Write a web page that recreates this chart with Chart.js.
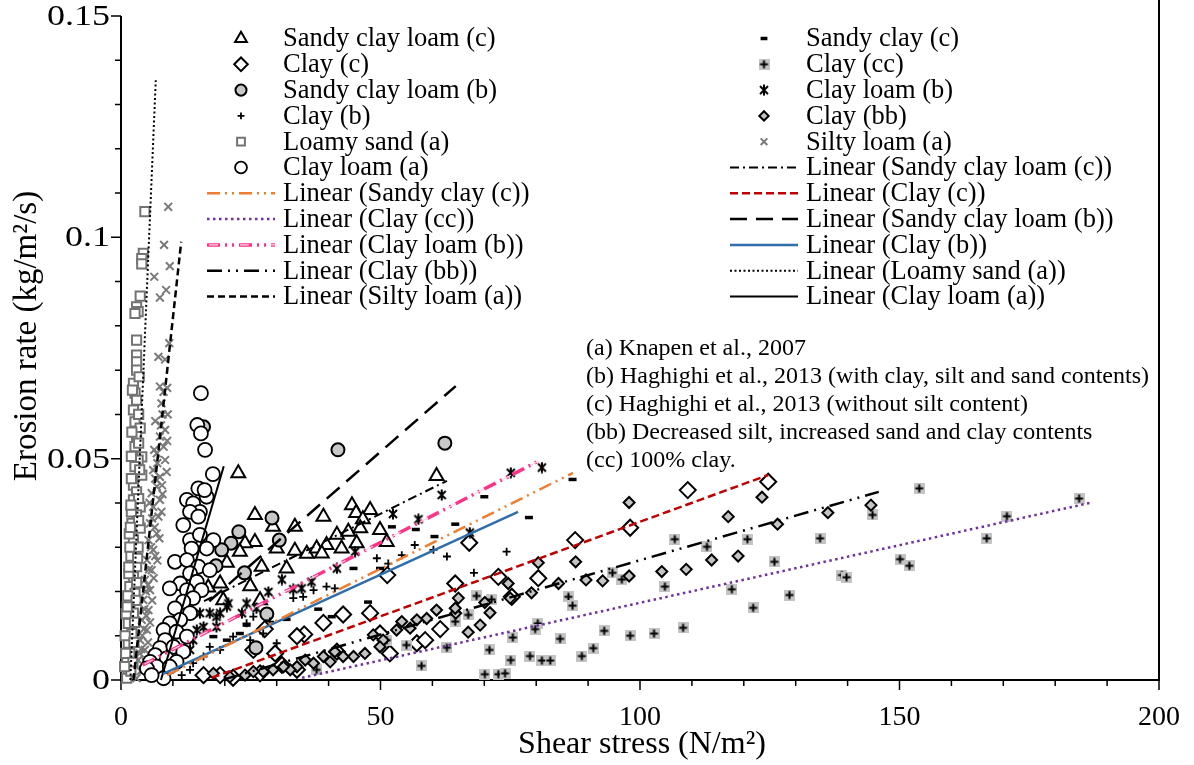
<!DOCTYPE html>
<html>
<head>
<meta charset="utf-8">
<script src="https://cdn.jsdelivr.net/npm/chart.js@4.4.1/dist/chart.umd.min.js"></script>
<style>
  html, body { margin: 0; padding: 0; background: #fff; }
  #wrap { width: 1194px; height: 765px; }
</style>
</head>
<body>
<div id="wrap"><canvas id="chart" width="1194" height="765"></canvas></div>
<script>
// values: [shear stress (N/m2), erosion rate (kg/m2/s)]
const sandyClayLoamC = [[60.8,0.0461],[22.6,0.0467],[44.5,0.0395],[45.3,0.0377],[48.0,0.0384],[46.6,0.0363],[39.0,0.0369],[25.8,0.0373],[29.3,0.0346],[33.5,0.0346],[25.8,0.0312],[30.0,0.0297],[33.5,0.0292],[35.8,0.0285],[37.7,0.0297],[39.6,0.0305],[41.6,0.0328],[43.8,0.0335],[46.1,0.0343],[49.9,0.0339],[51.2,0.0312],[42.5,0.0297],[45.4,0.0309],[38.7,0.0286],[23.9,0.0309],[22.9,0.0290],[20.4,0.0265],[16.8,0.0209],[19.1,0.0218],[24.9,0.0212],[27.1,0.0256],[31.9,0.0252],[19.7,0.0180],[26.8,0.0180]];
const sandyClayC = [[70.0,0.0414],[78.6,0.0367],[87.0,0.0453],[64.4,0.0352],[60.4,0.0324],[56.8,0.0340],[52.2,0.0346],[49.9,0.0252],[47.6,0.0176],[44.8,0.0252],[38.0,0.0160],[31.9,0.0137],[40.6,0.0143],[24.2,0.0124],[17.8,0.0098],[22.9,0.0105],[20.4,0.0090]];
const clayC = [[124.7,0.0448],[109.2,0.0429],[98.1,0.0344],[87.5,0.0316],[72.7,0.0233],[80.4,0.0230],[67.1,0.0310],[64.4,0.0218],[75.3,0.0188],[51.3,0.0237],[42.8,0.0148],[39.0,0.0129],[35.3,0.0103],[33.9,0.0099],[48.0,0.0151],[49.9,0.0105],[27.7,0.0115],[29.7,0.0060],[25.5,0.0068],[21.6,0.0005],[19.1,0.0011],[15.9,0.0011],[33.9,0.0023],[31.0,0.0034],[26.8,0.0015],[41.6,0.0064],[51.8,0.0060],[57.0,0.0083],[61.5,0.0115],[58.6,0.0090]];
const clayCC = [[184.6,0.0410],[170.7,0.0370],[166.8,0.0320],[153.8,0.0433],[150.1,0.0273],[151.9,0.0258],[144.8,0.0373],[134.7,0.0320],[138.9,0.0237],[139.8,0.0232],[128.8,0.0192],[125.9,0.0267],[121.8,0.0163],[120.7,0.0318],[117.7,0.0205],[112.9,0.0301],[106.7,0.0318],[108.3,0.0118],[104.8,0.0211],[102.7,0.0105],[98.1,0.0100],[93.1,0.0111],[91.0,0.0072],[88.8,0.0054],[94.7,0.0242],[96.5,0.0227],[86.2,0.0188],[87.0,0.0168],[84.6,0.0093],[80.3,0.0128],[79.8,0.0115],[75.5,0.0096],[75.1,0.0045],[78.8,0.0054],[81.1,0.0044],[82.7,0.0044],[71.0,0.0068],[70.1,0.0013],[72.7,0.0013],[74.0,0.0015],[64.4,0.0132],[66.9,0.0147],[68.5,0.0190],[71.4,0.0182],[62.8,0.0073],[57.9,0.0032],[55.0,0.0079],[51.2,0.0090],[37.7,0.0023]];
const sandyClayLoamB = [[41.8,0.0520],[62.4,0.0535],[29.1,0.0366],[30.5,0.0316],[22.7,0.0335],[21.2,0.0309],[19.4,0.0294],[23.8,0.0242],[18.3,0.0258],[28.1,0.0149],[26.0,0.0073],[15.9,0.0572]];
const clayLoamB = [[61.8,0.0418],[52.4,0.0375],[57.3,0.0363],[67.2,0.0333],[45.1,0.0290],[75.1,0.0468],[81.1,0.0480],[41.6,0.0252],[36.7,0.0222],[34.8,0.0207],[33.2,0.0205],[31.0,0.0227],[28.4,0.0199],[26.1,0.0162],[23.3,0.0151],[20.7,0.0173],[19.1,0.0151],[17.1,0.0151],[15.9,0.0120],[18.4,0.0120],[13.9,0.0090],[13.3,0.0068],[24.2,0.0173],[20.4,0.0166],[18.4,0.0143],[15.2,0.0151],[14.6,0.0113]];
const clayB = [[74.3,0.0290],[68.0,0.0242],[56.6,0.0305],[60.2,0.0294],[62.8,0.0279],[54.1,0.0282],[49.3,0.0275],[51.5,0.0263],[39.6,0.0211],[41.2,0.0207],[37.1,0.0203],[35.1,0.0188],[33.2,0.0185],[28.7,0.0132],[25.5,0.0143],[24.2,0.0128],[21.6,0.0098],[19.1,0.0068],[17.1,0.0075],[15.9,0.0053],[13.9,0.0038],[11.7,0.0011],[13.3,0.0023],[27.4,0.0105],[30.0,0.0083],[24.9,0.0090]];
const clayBB = [[144.5,0.0395],[136.2,0.0378],[126.5,0.0352],[123.5,0.0413],[117.0,0.0369],[97.9,0.0401],[118.9,0.0280],[113.8,0.0271],[108.9,0.0250],[104.2,0.0245],[97.9,0.0235],[92.8,0.0224],[89.6,0.0226],[87.6,0.0267],[84.3,0.0218],[80.4,0.0265],[79.1,0.0197],[75.0,0.0185],[74.6,0.0218],[71.1,0.0152],[70.1,0.0175],[69.2,0.0124],[66.9,0.0108],[64.5,0.0151],[65.0,0.0185],[64.4,0.0162],[60.8,0.0158],[58.9,0.0139],[57.0,0.0136],[55.7,0.0117],[54.1,0.0132],[53.1,0.0113],[50.5,0.0090],[48.6,0.0102],[49.9,0.0075],[47.0,0.0060],[44.8,0.0053],[42.8,0.0053],[41.2,0.0064],[40.3,0.0041],[39.0,0.0053],[37.1,0.0038],[35.5,0.0045],[33.9,0.0030],[32.6,0.0023],[31.3,0.0030],[29.3,0.0023],[27.4,0.0019],[25.5,0.0019],[23.9,0.0011],[21.0,0.0007],[17.8,0.0015]];
const loamySandA = [[4.6,0.1058],[4.3,0.0964],[4.0,0.0952],[4.0,0.0940],[3.7,0.0867],[3.0,0.0843],[3.3,0.0832],[2.7,0.0828],[3.0,0.0768],[3.0,0.0734],[3.0,0.0719],[3.0,0.0700],[2.4,0.0670],[2.7,0.0648],[3.0,0.0632],[2.4,0.0610],[2.7,0.0583],[3.7,0.0569],[3.0,0.0550],[2.7,0.0527],[4.0,0.0504],[3.3,0.0497],[2.7,0.0482],[4.0,0.0463],[2.4,0.0440],[3.0,0.0425],[2.4,0.0407],[3.7,0.0391],[3.0,0.0373],[2.1,0.0354],[3.7,0.0343],[2.4,0.0316],[2.7,0.0290],[2.1,0.0271],[3.0,0.0256],[2.4,0.0233],[1.7,0.0211],[2.7,0.0196],[1.7,0.0173],[2.4,0.0151],[1.4,0.0128],[2.1,0.0105],[1.4,0.0083],[1.7,0.0060],[1.1,0.0041],[1.4,0.0019],[1.1,0.0004],[1.0,0.0150],[0.8,0.0100],[1.9,0.0280],[1.5,0.0240],[0.9,0.0060],[2.0,0.0380],[1.6,0.0330],[3.5,0.0685],[2.2,0.0655],[3.4,0.0600],[2.1,0.0560],[3.4,0.0535],[2.0,0.0505],[3.6,0.0475],[2.0,0.0455],[3.4,0.0410],[1.9,0.0395],[3.4,0.0360],[1.8,0.0345],[3.3,0.0300],[1.7,0.0300],[3.2,0.0275],[1.5,0.0255],[3.0,0.0220],[1.3,0.0190],[2.9,0.0180],[1.2,0.0165],[2.6,0.0130],[2.5,0.0085],[2.3,0.0040],[1.9,0.0020],[0.7,0.0030]];
const siltyLoamA = [[9.1,0.1069],[8.3,0.0983],[9.4,0.0935],[6.4,0.0911],[8.7,0.0881],[7.5,0.0864],[9.3,0.0761],[7.2,0.0730],[8.5,0.0724],[7.5,0.0663],[8.2,0.0651],[7.8,0.0625],[8.5,0.0565],[7.5,0.0550],[8.2,0.0527],[6.9,0.0512],[8.5,0.0497],[6.2,0.0474],[7.5,0.0459],[6.9,0.0437],[5.9,0.0422],[7.5,0.0407],[6.2,0.0391],[7.2,0.0369],[5.6,0.0354],[6.9,0.0331],[5.3,0.0316],[6.2,0.0294],[5.0,0.0271],[5.9,0.0248],[4.6,0.0226],[5.6,0.0203],[4.3,0.0181],[5.3,0.0158],[4.0,0.0136],[5.0,0.0113],[3.7,0.0090],[4.6,0.0068],[3.3,0.0045],[4.3,0.0023],[3.0,0.0004],[6.6,0.0585],[7.9,0.0440],[6.0,0.0365],[6.6,0.0280],[5.2,0.0215],[4.9,0.0145],[4.1,0.0100],[3.6,0.0060],[8.0,0.0600],[7.0,0.0490],[7.7,0.0575],[8.9,0.0540],[6.4,0.0520],[8.8,0.0470],[6.6,0.0455],[8.0,0.0420],[5.5,0.0400],[7.8,0.0380],[6.5,0.0345],[7.4,0.0320],[5.8,0.0300],[7.0,0.0270],[5.4,0.0250],[6.3,0.0230],[4.8,0.0200],[6.0,0.0180],[4.5,0.0160],[5.6,0.0130],[4.4,0.0115],[5.2,0.0085],[3.9,0.0070],[4.8,0.0040],[3.8,0.0020],[8.9,0.0660],[9.0,0.0600]];
const clayLoamA = [[15.4,0.0648],[14.7,0.0576],[15.4,0.0557],[16.2,0.0520],[17.7,0.0465],[14.9,0.0433],[16.5,0.0414],[12.7,0.0407],[13.9,0.0399],[15.2,0.0380],[13.3,0.0380],[12.0,0.0350],[14.9,0.0369],[13.3,0.0316],[15.2,0.0328],[17.8,0.0316],[13.6,0.0297],[16.5,0.0297],[10.4,0.0267],[12.7,0.0271],[14.9,0.0256],[17.1,0.0248],[13.3,0.0241],[14.6,0.0222],[11.4,0.0218],[9.4,0.0207],[12.7,0.0203],[15.5,0.0203],[13.9,0.0185],[12.0,0.0177],[10.4,0.0162],[13.3,0.0151],[11.4,0.0136],[9.4,0.0128],[8.2,0.0113],[10.7,0.0109],[12.7,0.0098],[8.5,0.0090],[7.5,0.0072],[10.1,0.0075],[12.0,0.0064],[6.6,0.0056],[8.8,0.0049],[5.6,0.0041],[10.7,0.0041],[6.9,0.0030],[5.0,0.0026],[8.2,0.0004],[5.9,0.0011],[9.4,0.0030],[16.1,0.0429]];

// linear trend lines, start and end as drawn in the figure
const trendSandyClayLoamC = [[16, 0.0178], [62.8, 0.045]];
const trendSandyClayC = [[8.9, 0.0011], [87.1, 0.0468]];
const trendClayC = [[17.5, 0.0005], [124.7, 0.0463]];
const trendClayCC = [[34.9, 0.0005], [186.7, 0.040]];
const trendSandyClayLoamB = [[17, 0.0178], [64.5, 0.0664]];
const trendClayLoamB = [[4.2, 0.0034], [80.5, 0.0495]];
const trendClayB = [[8.1, 0.0014], [76.5, 0.038]];
const trendClayBB = [[20, 0.0002], [146, 0.0425]];
const trendLoamySandA = [[1.8, 0], [6.7, 0.1355]];
const trendSiltyLoamA = [[2.4, 0], [11.6, 0.099]];
const trendClayLoamA = [[7.7, 0], [19.8, 0.0483]];

// axis ticks
const xLabels = [0, 50, 100, 150, 200];
const yLabels = [0, 0.05, 0.1, 0.15];

const notes = [
  '(a) Knapen et al., 2007',
  '(b) Haghighi et al., 2013 (with clay, silt and sand contents)',
  '(c) Haghighi et al., 2013 (without silt content)',
  '(bb) Decreased silt, increased sand and clay contents',
  '(cc) 100% clay.'
];

const FONT = '"Liberation Serif", "Times New Roman", serif';

function markerCanvas(size, draw) {
  const c = document.createElement('canvas');
  c.width = size; c.height = size;
  draw(c.getContext('2d'), size);
  return c;
}
// gray square with a black plus
const plusBox = markerCanvas(11, (g, s) => {
  g.fillStyle = '#c4c4c4';
  g.fillRect(0, 0, s, s);
  g.strokeStyle = '#000'; g.lineWidth = 2;
  g.beginPath();
  g.moveTo(s / 2, 1.5); g.lineTo(s / 2, s - 1.5);
  g.moveTo(1.5, s / 2); g.lineTo(s - 1.5, s / 2);
  g.stroke();
});
// asterisk: x with a vertical bar
const asterisk = markerCanvas(12, (g, s) => {
  g.strokeStyle = '#000'; g.lineWidth = 2;
  g.beginPath();
  g.moveTo(2, 2); g.lineTo(s - 2, s - 2);
  g.moveTo(s - 2, 2); g.lineTo(2, s - 2);
  g.moveTo(s / 2, 0.5); g.lineTo(s / 2, s - 0.5);
  g.stroke();
});

// Excel series order (legend fills row by row, two columns)
const series = [
  { name: 'Sandy clay loam (c)', pts: sandyClayLoamC, trend: trendSandyClayLoamC, style: 'triangle', r: 8, fill: '#fff', stroke: '#000', bw: 2, color: '#000', dash: [9, 4, 2, 4], lw: 2 },
  { name: 'Sandy clay (c)', pts: sandyClayC, trend: trendSandyClayC, style: 'line', r: 4, fill: '#000', stroke: '#000', bw: 3.5, color: '#ED7D31', dash: [13, 5, 2, 5, 2, 5], lw: 2.5 },
  { name: 'Clay (c)', pts: clayC, trend: trendClayC, style: 'rectRot', r: 8, fill: '#fff', stroke: '#000', bw: 2, color: '#C00000', dash: [8, 4], lw: 2.5 },
  { name: 'Clay (cc)', pts: clayCC, trend: trendClayCC, style: plusBox, r: 5, fill: '#c4c4c4', stroke: '#000', bw: 1, color: '#7030A0', dash: [2.5, 3.5], lw: 2.5 },
  { name: 'Sandy clay loam (b)', pts: sandyClayLoamB, trend: trendSandyClayLoamB, style: 'circle', r: 6.5, fill: '#c8c8c8', stroke: '#000', bw: 2, color: '#000', dash: [17, 9], lw: 2.5 },
  { name: 'Clay loam (b)', pts: clayLoamB, trend: trendClayLoamB, style: asterisk, r: 5, fill: '#000', stroke: '#000', bw: 1, color: '#FF3388', dash: [13, 5, 2, 5, 2, 5], lw: 3.5, inner: '#ffd6e8' },
  { name: 'Clay (b)', pts: clayB, trend: trendClayB, style: 'cross', r: 4, fill: '#000', stroke: '#000', bw: 1.8, color: '#2F6EAA', dash: [], lw: 2.5 },
  { name: 'Clay (bb)', pts: clayBB, trend: trendClayBB, style: 'rectRot', r: 5.5, fill: '#c4c4c4', stroke: '#000', bw: 2, color: '#000', dash: [15, 6, 2, 6, 2, 6], lw: 2.5 },
  { name: 'Loamy sand (a)', pts: loamySandA, trend: trendLoamySandA, style: 'rect', r: 6.5, fill: '#fff', stroke: '#737373', bw: 2, color: '#000', dash: [2, 2.5], lw: 2 },
  { name: 'Silty loam (a)', pts: siltyLoamA, trend: trendSiltyLoamA, style: 'crossRot', r: 5.5, fill: '#7a7a7a', stroke: '#7a7a7a', bw: 2, color: '#000', dash: [7, 4], lw: 2.5 },
  { name: 'Clay loam (a)', pts: clayLoamA, trend: trendClayLoamA, style: 'circle', r: 7, fill: '#fff', stroke: '#000', bw: 1.8, color: '#000', dash: [], lw: 2 }
];

const toXY = arr => arr.map(p => ({ x: p[0], y: p[1] }));
const datasets = [];
series.forEach((s, i) => {
  datasets.push({
    label: s.name, data: toXY(s.pts), clip: false, order: 12 - i,
    pointStyle: s.style, pointRadius: s.r, pointBackgroundColor: s.fill,
    pointBorderColor: s.stroke, pointBorderWidth: s.bw
  });
  datasets.push({
    label: 'Linear (' + s.name + ')', data: toXY(s.trend), clip: false, order: 1,
    showLine: true, pointRadius: 0, borderColor: s.color, borderWidth: s.lw, borderDash: s.dash
  });
  if (s.inner) {
    datasets.push({
      label: '', data: toXY(s.trend), clip: false, order: 0,
      showLine: true, pointRadius: 0, borderColor: s.inner, borderWidth: 1.2,
      borderDash: [9, 22], borderDashOffset: -2
    });
  }
});

const axesPlugin = {
  id: 'axes',
  beforeDatasetsDraw(chart) {
    const { ctx, chartArea: a, scales: { x, y } } = chart;
    ctx.save();
    ctx.strokeStyle = '#000';
    ctx.lineWidth = 2;
    ctx.beginPath();
    ctx.moveTo(a.left, a.top);
    ctx.lineTo(a.left, a.bottom);
    ctx.lineTo(a.right, a.bottom);
    ctx.lineTo(a.right, a.top - 16);
    ctx.stroke();
    ctx.lineWidth = 1.5;
    ctx.beginPath();
    for (let k = 0; k <= 15; k++) {
      const py = y.getPixelForValue(k / 100);
      const len = k % 5 === 0 ? 10 : 6;
      ctx.moveTo(a.left - len, py); ctx.lineTo(a.left, py);
    }
    for (let k = 0; k <= 20; k++) {
      const px = x.getPixelForValue(k * 10);
      const len = k % 5 === 0 ? 10 : 6;
      ctx.moveTo(px, a.bottom); ctx.lineTo(px, a.bottom + len);
    }
    ctx.stroke();
    ctx.restore();
  },
  afterDraw(chart) {
    const { ctx, chartArea: a, scales: { x, y } } = chart;
    ctx.save();
    ctx.fillStyle = '#000';
    ctx.textBaseline = 'middle';
    // y tick labels (drawn a little wide, as in the figure)
    ctx.font = '30px ' + FONT;
    ctx.textAlign = 'right';
    yLabels.forEach(v => {
      ctx.save();
      ctx.translate(a.left - 11, y.getPixelForValue(v) + 1);
      ctx.scale(1.2, 1);
      ctx.fillText(String(v), 0, 0);
      ctx.restore();
    });
    ctx.font = '28px ' + FONT;
    ctx.textAlign = 'center';
    xLabels.forEach(v => ctx.fillText(String(v), x.getPixelForValue(v), a.bottom + 38));
    ctx.font = '32px ' + FONT;
    ctx.fillText('Shear stress (N/m²)', (a.left + a.right) / 2 + 2, 745);
    ctx.save();
    ctx.translate(27, 336);
    ctx.rotate(-Math.PI / 2);
    ctx.font = '33px ' + FONT;
    ctx.fillText('Erosion rate (kg/m²/s)', 0, 0);
    ctx.restore();
    ctx.restore();
  }
};

const legendPlugin = {
  id: 'gridLegend',
  afterDraw(chart) {
    const ctx = chart.ctx;
    const colX = [207, 730];
    const y0 = 38.5, dy = 25.8;
    const entries = [];
    series.forEach(s => entries.push({ kind: 'marker', s: s, text: s.name }));
    series.forEach(s => entries.push({ kind: 'line', s: s, text: 'Linear (' + s.name + ')' }));
    ctx.save();
    entries.forEach((e, i) => {
      const x0 = colX[i % 2];
      const y = y0 + Math.floor(i / 2) * dy;
      const s = e.s;
      if (e.kind === 'marker') {
        ctx.fillStyle = s.fill; ctx.strokeStyle = s.stroke; ctx.lineWidth = s.bw;
        Chart.helpers.drawPoint(ctx, { pointStyle: s.style, radius: s.r * 0.85, borderWidth: s.bw, rotation: 0 }, x0 + 34, y);
      } else {
        ctx.strokeStyle = s.color; ctx.lineWidth = s.lw; ctx.setLineDash(s.dash);
        ctx.beginPath(); ctx.moveTo(x0, y); ctx.lineTo(x0 + 68, y); ctx.stroke();
        if (s.inner) {
          ctx.strokeStyle = s.inner; ctx.lineWidth = 1.2; ctx.setLineDash([9, 22]); ctx.lineDashOffset = -2;
          ctx.beginPath(); ctx.moveTo(x0, y); ctx.lineTo(x0 + 68, y); ctx.stroke();
          ctx.lineDashOffset = 0;
        }
        ctx.setLineDash([]);
      }
      ctx.fillStyle = '#000';
      ctx.font = '26.5px ' + FONT;
      ctx.textBaseline = 'middle';
      ctx.textAlign = 'left';
      ctx.fillText(e.text, x0 + 76, y + 1);
    });
    ctx.font = '24px ' + FONT;
    notes.forEach((t, i) => ctx.fillText(t, 586, 349 + i * 28));
    ctx.restore();
  }
};

const noPad = s => { s.paddingTop = 0; s.paddingBottom = 0; s.paddingLeft = 0; s.paddingRight = 0; };

new Chart(document.getElementById('chart'), {
  type: 'scatter',
  data: { datasets: datasets },
  options: {
    responsive: false,
    animation: false,
    devicePixelRatio: 1,
    events: [],
    layout: { padding: { top: 16, right: 35, left: 0, bottom: 0 } },
    plugins: { legend: { display: false }, tooltip: { enabled: false } },
    scales: {
      x: {
        type: 'linear', min: 0, max: 200,
        afterFit: s => { s.height = 85; noPad(s); },
        grid: { display: false, drawTicks: false },
        border: { display: false },
        ticks: { display: false, stepSize: 10 },
        title: { display: false }
      },
      y: {
        type: 'linear', min: 0, max: 0.15,
        afterFit: s => { s.width = 121; noPad(s); },
        grid: { display: false, drawTicks: false },
        border: { display: false },
        ticks: { display: false, stepSize: 0.01 },
        title: { display: false }
      }
    }
  },
  plugins: [axesPlugin, legendPlugin]
});
</script>
</body>
</html>
